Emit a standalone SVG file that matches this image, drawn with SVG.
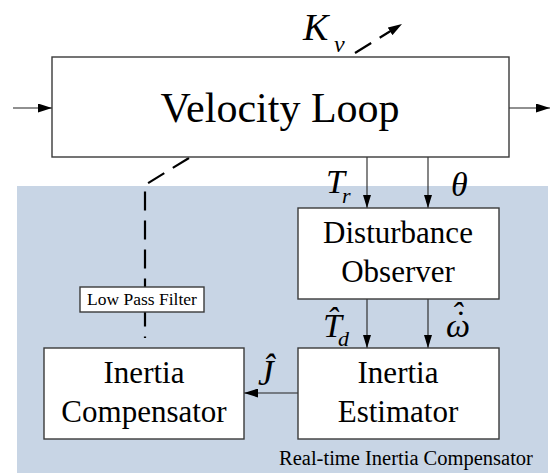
<svg xmlns="http://www.w3.org/2000/svg" width="554" height="473" viewBox="0 0 554 473">
<defs>
<marker id="ah" viewBox="0 0 14 9" refX="14" refY="4.5" markerWidth="14" markerHeight="9" markerUnits="userSpaceOnUse" orient="auto">
<path d="M0,0 L14,4.5 L0,9 Z" fill="#000"/>
</marker>
<marker id="ahs" viewBox="0 0 13 8" refX="13" refY="4" markerWidth="13" markerHeight="8" markerUnits="userSpaceOnUse" orient="auto">
<path d="M0,0 L13,4 L0,8 Z" fill="#000"/>
</marker>
</defs>
<style>
.box{fill:#fff;stroke:#3a3a3a;stroke-width:1.4}
.t{font-family:"Liberation Serif","Times New Roman",serif;fill:#000;text-anchor:middle}
.m{font-family:"Liberation Serif","Times New Roman",serif;font-style:italic;fill:#000}
.ln{stroke:#222;stroke-width:1.1;fill:none}
.dash{stroke:#000;stroke-width:2.2;fill:none;stroke-dasharray:19 10}
</style>
<rect id="region" x="17" y="186" width="531" height="287" fill="#C8D5E5"/>
<text class="t" x="406" y="465" font-size="20.5">Real-time Inertia Compensator</text>

<g id="connectors">
<line class="ln" x1="13" y1="108" x2="52" y2="108" marker-end="url(#ah)"/>
<line class="ln" x1="509" y1="108" x2="550" y2="108" marker-end="url(#ah)"/>
<line class="ln" x1="367" y1="157" x2="367" y2="208" marker-end="url(#ahs)"/>
<line class="ln" x1="428" y1="157" x2="428" y2="208" marker-end="url(#ahs)"/>
<line class="ln" x1="367" y1="299" x2="367" y2="348" marker-end="url(#ahs)"/>
<line class="ln" x1="428" y1="299" x2="428" y2="348" marker-end="url(#ahs)"/>
<line class="ln" x1="298" y1="393" x2="244" y2="393" marker-end="url(#ah)"/>
<path class="dash" d="M189,158 L145,185 L145,338"/>
<line class="dash" x1="355" y1="53" x2="402" y2="24" stroke-dasharray="20 9" marker-end="url(#ah)"/>
</g>

<g id="velocity-loop">
<rect class="box" x="52" y="57" width="457" height="100"/>
<text class="t" x="280" y="122" font-size="42">Velocity Loop</text>
</g>

<g id="kv-label">
<text class="m" x="303" y="40" font-size="38">K<tspan x="334" y="52" font-size="24">v</tspan></text>
</g>

<g id="disturbance-observer">
<rect class="box" x="298" y="208" width="201" height="91"/>
<text class="t" x="398" y="243" font-size="31">Disturbance</text>
<text class="t" x="398" y="282" font-size="31">Observer</text>
</g>

<g id="inertia-estimator">
<rect class="box" x="298" y="348" width="201" height="91"/>
<text class="t" x="398" y="383" font-size="31">Inertia</text>
<text class="t" x="398" y="422" font-size="31">Estimator</text>
</g>

<g id="inertia-compensator">
<rect class="box" x="44" y="348" width="200" height="91"/>
<text class="t" x="144" y="383" font-size="31">Inertia</text>
<text class="t" x="144" y="422" font-size="31">Compensator</text>
</g>

<g id="low-pass-filter">
<rect class="box" x="80" y="287" width="124" height="25" stroke-width="1"/>
<text class="t" x="142" y="305" font-size="17.5">Low Pass Filter</text>
</g>

<g id="labels">
<text class="m" x="326" y="193" font-size="34">T<tspan x="342" y="203" font-size="22">r</tspan></text>
<text class="m" x="451" y="196" font-size="34">θ</text>
<text class="m" x="323" y="337" font-size="34">T̂<tspan x="338" y="346" font-size="22">d</tspan></text>
<text class="m" x="446" y="337" font-size="34">ω<tspan x="453" y="334">˙</tspan><tspan x="451" y="326">ˆ</tspan></text>
<text class="m" x="258" y="385" font-size="35">Ĵ</text>
</g>
</svg>
